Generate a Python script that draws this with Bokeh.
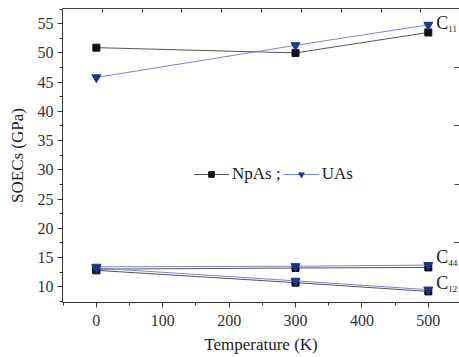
from bokeh.plotting import figure
from bokeh.models import (Range1d, LinearAxis, FixedTicker, Legend, LegendItem,
                          ColumnDataSource)
from bokeh.core.properties import value
from bokeh.embed import file_html
from bokeh.resources import INLINE

# ---- data ----
temps = [0, 300, 500]
npas_c11 = [50.9, 50.0, 53.5]
uas_c11 = [45.8, 51.3, 54.8]
npas_c44 = [13.0, 13.2, 13.3]
uas_c44 = [13.4, 13.5, 13.7]
npas_c12 = [12.8, 10.7, 9.2]
uas_c12 = [13.2, 11.0, 9.5]
x_ticks = [0, 100, 200, 300, 400, 500]
y_ticks = [10, 15, 20, 25, 30, 35, 40, 45, 50, 55]
label_names = ["C", "C", "C"]
label_subs = ["11", "44", "12"]
label_y = [55.2, 15.0, 10.7]

FONT = "'Liberation Serif'"

p = figure(width=459, height=357, output_backend="svg", toolbar_location=None,
           x_range=Range1d(-51, 547), y_range=Range1d(7.3, 57.6),
           min_border_left=62, min_border_bottom=55, min_border_top=8,
           min_border_right=0)
p.outline_line_color = None
p.grid.grid_line_color = None
p.background_fill_color = "white"

# bottom axis
xa = p.xaxis[0]
xa.ticker = FixedTicker(ticks=x_ticks, minor_ticks=[-50, 50, 150, 250, 350, 450, 550])
xa.axis_label = "Temperature (K)"
xa.axis_label_text_font = FONT
xa.axis_label_text_font_style = "normal"
xa.axis_label_text_font_size = "17px"
xa.axis_label_standoff = 6
xa.major_label_text_font = FONT
xa.major_label_text_font_size = "16px"
xa.major_label_standoff = 7
xa.major_tick_out = 5
xa.major_tick_in = 0
xa.minor_tick_out = 3
xa.minor_tick_in = 0
xa.axis_line_color = "#333333"
xa.major_tick_line_color = "#333333"
xa.minor_tick_line_color = "#333333"
xa.major_label_text_color = "#333333"
xa.axis_label_text_color = "#222222"

# left axis
ya = p.yaxis[0]
ya.ticker = FixedTicker(ticks=y_ticks, minor_ticks=[7.5 + 2.5 * i for i in range(21)])
ya.axis_label = "SOECs (GPa)"
ya.axis_label_text_font = FONT
ya.axis_label_text_font_style = "normal"
ya.axis_label_text_font_size = "17px"
ya.axis_label_standoff = 8
ya.major_label_text_font = FONT
ya.major_label_text_font_size = "16px"
ya.major_label_standoff = 4
ya.major_tick_out = 5
ya.major_tick_in = 0
ya.minor_tick_out = 3
ya.minor_tick_in = 0
ya.axis_line_color = "#333333"
ya.major_tick_line_color = "#333333"
ya.minor_tick_line_color = "#333333"
ya.major_label_text_color = "#333333"
ya.axis_label_text_color = "#222222"

# top mirrored axis (ticks only)
top = LinearAxis(ticker=FixedTicker(ticks=[9, 69, 129, 189, 249, 309, 369, 429, 489]),
                 major_label_text_font_size="1px", major_label_text_color=None,
                 major_label_standoff=0,
                 major_tick_in=4, major_tick_out=0, axis_line_color="#444444",
                 major_tick_line_color="#444444")
p.add_layout(top, "above")

# right ticks (no spine visible)
right = LinearAxis(ticker=FixedTicker(ticks=[17.5, 27.5, 37.5, 47.5]),
                   major_label_text_font_size="1px", major_label_text_color=None,
                   major_label_standoff=0,
                   major_tick_in=5, major_tick_out=0, axis_line_color=None,
                   major_tick_line_color="#444444")
p.add_layout(right, "right")

BLACK = "#111111"
BLUE_LINE = "#7a84d0"
BLUE_MK = "#1f3590"

r_items_np = []
r_items_u = []
for yv in (npas_c11, npas_c44, npas_c12):
    l = p.line(temps, yv, line_color="#555555", line_width=1)
    m = p.scatter(temps, yv, marker="square", size=7, fill_color=BLACK, line_color=BLACK)
    r_items_np += [l, m]
for yv in (uas_c11, uas_c44, uas_c12):
    l = p.line(temps, yv, line_color=BLUE_LINE, line_width=1)
    m = p.scatter(temps, yv, marker="inverted_triangle", size=9, fill_color=BLUE_MK,
                  line_color=BLUE_MK)
    r_items_u += [l, m]

legend = Legend(items=[LegendItem(label="NpAs ;", renderers=r_items_np[:2]),
                       LegendItem(label="UAs", renderers=r_items_u[:2])],
                orientation="horizontal", location=(131, 118),
                glyph_width=36, glyph_height=14, label_standoff=3, spacing=2,
                padding=0, margin=0, background_fill_alpha=0, border_line_color=None,
                label_text_font=FONT, label_text_font_size="17px",
                label_text_color="#222222")
p.add_layout(legend, "center")

# C labels anchored at the last temperature
src = ColumnDataSource(dict(x=[temps[-1]] * 3, y=label_y, c=label_names, s=label_subs))
p.text(x="x", y="y", text="c", source=src, x_offset=8, text_font=value(FONT),
       text_font_size="18px", text_baseline="middle", text_align="left", text_color="#222222")
p.text(x="x", y="y", text="s", source=src, x_offset=20, y_offset=6, text_font=value(FONT),
       text_font_size="9px", text_baseline="middle", text_align="left", text_color="#222222")

open("out.html", "w").write(file_html(p, INLINE))
